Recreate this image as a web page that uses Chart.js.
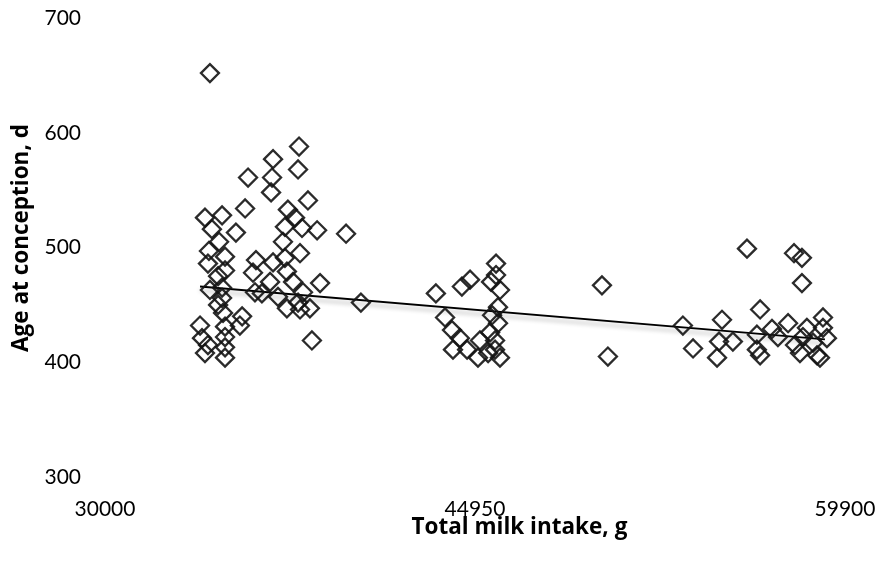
<!DOCTYPE html>
<html>
<head>
<meta charset="utf-8">
<script src="https://cdn.jsdelivr.net/npm/chart.js@4/dist/chart.umd.min.js"></script>
<style>
  body { margin: 0; background: #fff; }
</style>
</head>
<body>
<canvas id="myChart" width="885" height="562"></canvas>
<script>
// total milk intake (g) and age at conception (d), one entry per calf
const milkIntake = [
  34240, 34040, 34730, 35660, 34320, 35290, 34610, 34200, 34850, 34160,
  34850, 34570, 36100, 35980, 34240, 34730, 36060, 34730, 34570, 34770,
  35540, 33840, 34850, 35450, 34850, 33920, 34160, 34850, 34040, 34850,
  37840, 36790, 37800, 36750, 35780, 36710, 38200, 37390, 37680, 37270,
  37960, 38570, 39740, 37190, 37880, 37270, 36790, 37350, 37600, 38690,
  36670, 36340, 36990, 38000, 37350, 37880, 38280, 37800, 38360, 40340,
  43370, 44420, 44750, 45800, 45800, 45600, 45960, 45880, 45640, 43740,
  44020, 44340, 45880, 45560, 45150, 44060, 44630, 45070, 45760, 45960,
  45480, 45760,
  50080, 50320, 53350, 53760, 54930, 54810, 55370, 54730,
  55940, 57840, 58160, 58160, 56470, 56340, 56950, 57600, 56340, 56470,
  57190, 57880, 58200, 58360, 59010, 59170, 59010, 58080, 58770, 58890,
  58610
];
const ageAtConception = [
  652, 526, 528, 534, 516, 513, 505, 497, 492, 486,
  480, 475, 489, 478, 463, 465, 461, 456, 450, 443,
  440, 432, 431, 432, 422, 421, 415, 413, 408, 404,
  588, 577, 568, 561, 561, 548, 541, 533, 526, 518,
  517, 515, 512, 505, 495, 491, 487, 479, 470, 469,
  470, 460, 457, 461, 447, 446, 447, 452, 419, 452,
  460, 466, 472, 486, 476, 470, 463, 448, 441, 439,
  428, 421, 434, 426, 419, 411, 411, 404, 411, 404,
  408, 419,
  467, 405, 432, 412, 437, 418, 418, 404,
  499, 495, 491, 469, 446, 424, 429, 434, 411, 406,
  422, 415, 422, 430, 439, 421, 430, 408, 406, 404,
  417
];

// fitted trend line ends
const trendX = [33840, 59090];
const trendY = [466, 420];

const xTicks = [30000, 44950, 59900];
const yMin = 300;
const yMax = 700;
const yStep = 100;

const xTitle = "Total milk intake, g";
const yTitle = "Age at conception, d";

const points = milkIntake.map((x, i) => ({ x: x, y: ageAtConception[i] }));
const trend = trendX.map((x, i) => ({ x: x, y: trendY[i] }));

Chart.defaults.font.family = "Lato, 'Open Sans', sans-serif";
Chart.defaults.color = "#000";

// soft grey shadow under the trend line
const lineShadow = {
  id: "lineShadow",
  beforeDatasetDraw(chart, args) {
    if (args.index !== 1) return;
    const ctx = chart.ctx;
    ctx.save();
    ctx.shadowColor = "rgba(0,0,0,0.28)";
    ctx.shadowBlur = 4;
    ctx.shadowOffsetY = 4;
  },
  afterDatasetDraw(chart, args) {
    if (args.index !== 1) return;
    chart.ctx.restore();
  }
};

const whiteBg = {
  id: "whiteBg",
  beforeDraw(chart) {
    const ctx = chart.ctx;
    ctx.save();
    ctx.fillStyle = "#fff";
    ctx.fillRect(0, 0, chart.width, chart.height);
    ctx.restore();
  }
};

// axis titles: the x title sits right of the plot centre in the original
const axisTitles = {
  id: "axisTitles",
  afterDraw(chart) {
    const { ctx, chartArea } = chart;
    const w = chartArea.right - chartArea.left;
    ctx.save();
    ctx.fillStyle = "#000";
    ctx.font = "bold 22.5px 'Open Sans', sans-serif";
    ctx.textAlign = "center";
    ctx.textBaseline = "middle";
    ctx.fillText(xTitle, chartArea.left + w * 0.56, chartArea.bottom + 51);
    ctx.translate(22, chartArea.top + 220);
    ctx.rotate(-Math.PI / 2);
    ctx.fillText(yTitle, 0, 0);
    ctx.restore();
  }
};

const config = {
  type: "scatter",
  data: {
    datasets: [
      {
        label: "Age at conception",
        data: points,
        pointStyle: "rectRot",
        pointRadius: 9,
        borderWidth: 2.3,
        borderColor: "rgba(20,20,20,0.9)",
        backgroundColor: "rgba(0,0,0,0)"
      },
      {
        label: "Trend",
        type: "line",
        data: trend,
        showLine: true,
        pointRadius: 0,
        borderColor: "#000",
        borderWidth: 1.8,
        fill: false
      }
    ]
  },
  options: {
    responsive: false,
    animation: false,
    layout: { padding: { top: 18, right: 40, bottom: 0, left: 0 } },
    plugins: {
      legend: { display: false },
      tooltip: { enabled: false }
    },
    scales: {
      x: {
        type: "linear",
        min: xTicks[0],
        max: xTicks[xTicks.length - 1],
        afterBuildTicks: (axis) => {
          axis.ticks = xTicks.map((v) => ({ value: v }));
        },
        afterFit: (axis) => {
          axis.height = 85;
          axis.paddingLeft = 0;
          axis.paddingRight = 0;
        },
        grid: { display: false, drawTicks: false },
        border: { display: false },
        ticks: {
          padding: 20,
          maxRotation: 0,
          font: { size: 21, lineHeight: 1.2 },
          callback: (v) => String(v)
        },
        title: { display: false }
      },
      y: {
        min: yMin,
        max: yMax,
        afterFit: (axis) => {
          axis.width = 105;
          axis.paddingTop = 0;
          axis.paddingBottom = 0;
        },
        grid: { display: false, drawTicks: false },
        border: { display: false },
        ticks: {
          stepSize: yStep,
          padding: 24,
          font: { size: 21, lineHeight: 1.2 },
          callback: (v) => String(v)
        },
        title: { display: false }
      }
    }
  },
  plugins: [whiteBg, lineShadow, axisTitles]
};

const myChart = new Chart(document.getElementById("myChart"), config);
</script>
</body>
</html>
